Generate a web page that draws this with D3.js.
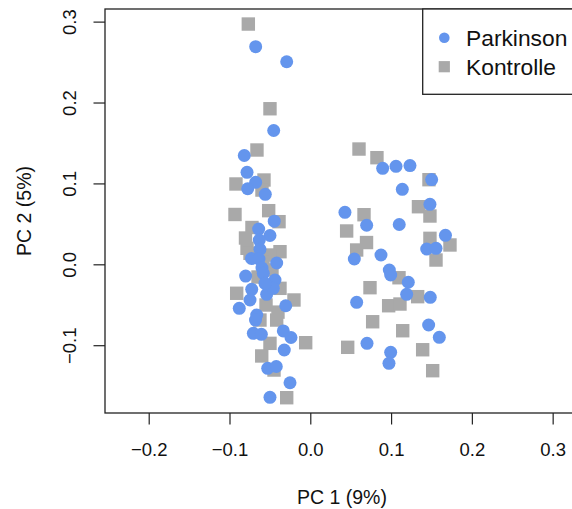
<!DOCTYPE html>
<html>
<head>
<meta charset="utf-8">
<script src="https://cdn.jsdelivr.net/npm/d3@7"></script>
<style>
  html, body { margin: 0; padding: 0; background: #fff; }
  svg { display: block; font-family: "Liberation Sans", Arial, Helvetica, sans-serif; }
</style>
</head>
<body>
<svg id="chart" width="572" height="509"></svg>
<script>
// PCA scores: [PC1, PC2] per sample
const parkinson = [
  [-0.0676, 0.2690], [-0.0292, 0.2504], [-0.0453, 0.1654], [-0.0817, 0.1345],
  [-0.0783, 0.1137], [-0.0676, 0.1014], [-0.0775, 0.0934], [-0.0557, 0.0865],
  [-0.0446, 0.0533], [-0.0639, 0.0436], [-0.0499, 0.0356], [-0.0631, 0.0300],
  [-0.0623, 0.0185], [-0.0728, 0.0072], [-0.0635, 0.0066], [-0.0416, 0.0016],
  [-0.0598, -0.0046], [-0.0800, -0.0145], [-0.0582, -0.0111], [-0.0437, -0.0194],
  [-0.0725, -0.0309], [-0.0540, -0.0371], [-0.0458, -0.0297], [-0.0746, -0.0441],
  [-0.0879, -0.0544], [-0.0304, -0.0512], [-0.0663, -0.0627], [-0.0678, -0.0689],
  [-0.0705, -0.0853], [-0.0606, -0.0865], [-0.0334, -0.0824], [-0.0239, -0.0905],
  [-0.0322, -0.1059], [-0.0527, -0.1286], [-0.0421, -0.1263], [-0.0251, -0.1464],
  [-0.0499, -0.1644], [-0.0561, -0.0235],
  [0.0896, 0.1187], [0.1061, 0.1211], [0.1234, 0.1221], [0.1502, 0.1048],
  [0.1139, 0.0927], [0.1481, 0.0742], [0.0429, 0.0643], [0.0698, 0.0483],
  [0.1101, 0.0492], [0.1673, 0.0358], [0.1441, 0.0189], [0.1556, 0.0198],
  [0.0875, 0.0115], [0.0545, 0.0066], [0.0978, -0.0070], [0.0995, -0.0132],
  [0.1213, -0.0222], [0.1193, -0.0371], [0.1485, -0.0408], [0.0574, -0.0470],
  [0.1465, -0.0750], [0.1597, -0.0902], [0.0702, -0.0977], [0.0995, -0.1088],
  [0.0974, -0.1224]
];

const kontrolle = [
  [-0.0767, 0.2970], [-0.0499, 0.1923], [-0.0660, 0.1413], [-0.0573, 0.1042],
  [-0.0920, 0.0993], [-0.0598, 0.0918], [-0.0932, 0.0616], [-0.0515, 0.0663],
  [-0.0387, 0.0527], [-0.0722, 0.0455], [-0.0802, 0.0325], [-0.0375, 0.0156],
  [-0.0783, 0.0198], [-0.0746, 0.0136], [-0.0499, 0.0115], [-0.0585, 0.0028],
  [-0.0474, -0.0070], [-0.0911, -0.0358], [-0.0375, -0.0297], [-0.0202, -0.0441],
  [-0.0623, -0.0689], [-0.0416, -0.0689], [-0.0499, -0.0977], [-0.0057, -0.0969],
  [-0.0601, -0.1133], [-0.0449, -0.1307], [-0.0292, -0.1649], [-0.0548, -0.0503],
  [-0.0400, -0.0591], [-0.0647, -0.0157],
  [0.0603, 0.1425], [0.0825, 0.1318], [0.1469, 0.1046], [0.1339, 0.0712],
  [0.1481, 0.0597], [0.0665, 0.0613], [0.0450, 0.0412], [0.1481, 0.0321],
  [0.1729, 0.0239], [0.0696, 0.0269], [0.0574, 0.0177], [0.1556, 0.0053],
  [0.1098, -0.0166], [0.0739, -0.0289], [0.1329, -0.0400], [0.0970, -0.0512],
  [0.1110, -0.0491], [0.0772, -0.0710], [0.1144, -0.0821], [0.0463, -0.1026],
  [0.1391, -0.1056], [0.1515, -0.1315]
];

const xTicks = [-0.2, -0.1, 0.0, 0.1, 0.2, 0.3];
const yTicks = [-0.1, 0.0, 0.1, 0.2, 0.3];
const groupNames = ["Parkinson", "Kontrolle"];
const groupColors = ["#6495ED", "#A9A9A9"];
const xTitle = "PC 1 (9%)";
const yTitle = "PC 2 (5%)";

const svg = d3.select("#chart");
const plot = { left: 105, right: 579, top: 9, bottom: 413 };

const x = d3.scaleLinear().domain([-0.2541, 0.3326]).range([plot.left, plot.right]);
const y = d3.scaleLinear().domain([-0.1838, 0.3156]).range([plot.bottom, plot.top]);

const fmt = v => (v < 0 ? "\u2212" : "") + Math.abs(v).toFixed(1);

// axes
const xAxis = d3.axisBottom(x).tickValues(xTicks).tickSize(11.5).tickPadding(0).tickFormat(fmt);
const gx = svg.append("g").attr("transform", `translate(0,${plot.bottom})`).call(xAxis);
gx.select(".domain").remove();
gx.selectAll(".tick line").attr("stroke", "#222").attr("stroke-width", 1.2);
gx.selectAll(".tick text")
  .attr("y", 43).attr("dy", 0)
  .attr("font-size", 18.5).attr("fill", "#111")
  .attr("font-family", "'Liberation Sans', Arial, sans-serif");

const yAxis = d3.axisLeft(y).tickValues(yTicks).tickSize(11.5).tickFormat(fmt);
const gy = svg.append("g").attr("transform", `translate(${plot.left},0)`).call(yAxis);
gy.select(".domain").remove();
gy.selectAll(".tick line").attr("stroke", "#222").attr("stroke-width", 1.2);
gy.selectAll(".tick text")
  .attr("x", 0).attr("y", 0).attr("dy", "0.35em")
  .attr("text-anchor", "middle")
  .attr("transform", "translate(-35,0) rotate(-90)")
  .attr("font-size", 18.5).attr("fill", "#111")
  .attr("font-family", "'Liberation Sans', Arial, sans-serif");

// frame
svg.append("rect")
  .attr("x", plot.left).attr("y", plot.top)
  .attr("width", plot.right - plot.left).attr("height", plot.bottom - plot.top)
  .attr("fill", "none").attr("stroke", "#222").attr("stroke-width", 1.3);

// points: controls first, patients on top
const r = 6.5, side = 13.4;
svg.append("g").selectAll("rect").data(kontrolle).join("rect")
  .attr("x", d => x(d[0]) - side / 2).attr("y", d => y(d[1]) - side / 2)
  .attr("width", side).attr("height", side)
  .attr("fill", groupColors[1]);

svg.append("g").selectAll("circle").data(parkinson).join("circle")
  .attr("cx", d => x(d[0])).attr("cy", d => y(d[1])).attr("r", r)
  .attr("fill", groupColors[0]);

// axis titles
svg.append("text")
  .attr("x", (plot.left + plot.right) / 2).attr("y", 497).attr("dy", "0.35em")
  .attr("text-anchor", "middle").attr("font-size", 19.5).attr("fill", "#111")
  .text(xTitle);
svg.append("text")
  .attr("transform", `translate(24,${(plot.top + plot.bottom) / 2}) rotate(-90)`)
  .attr("dy", "0.35em")
  .attr("text-anchor", "middle").attr("font-size", 19.5).attr("fill", "#111")
  .text(yTitle);

// legend
const legend = svg.append("g");
legend.append("rect")
  .attr("x", 422.7).attr("y", plot.top).attr("width", 200).attr("height", 85.3)
  .attr("fill", "#fff").attr("stroke", "#222").attr("stroke-width", 1.3);
const rows = [37.7, 66.7];
legend.append("circle").attr("cx", 444.3).attr("cy", rows[0]).attr("r", 5.3).attr("fill", groupColors[0]);
legend.append("rect").attr("x", 444.3 - 5.6).attr("y", rows[1] - 5.6).attr("width", 11.2).attr("height", 11.2).attr("fill", groupColors[1]);
groupNames.forEach((name, i) => {
  legend.append("text")
    .attr("x", 466).attr("y", rows[i]).attr("dy", "0.35em")
    .attr("font-size", 22.8).attr("fill", "#111")
    .text(name);
});
</script>
</body>
</html>
